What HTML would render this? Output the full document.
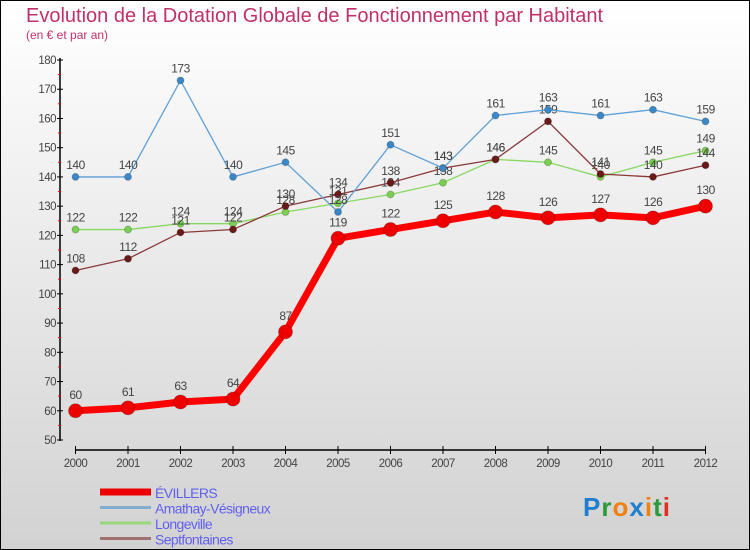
<!DOCTYPE html>
<html><head><meta charset="utf-8"><style>
body{margin:0}
#c{width:750px;height:550px;position:relative;box-sizing:border-box;border:1px solid #000;background:linear-gradient(#ffffff,#d2d2d2);font-family:"Liberation Sans",sans-serif;overflow:hidden}
</style></head><body>
<div id="c">
<svg id="s" width="750" height="550" style="position:absolute;left:-1px;top:-1px">
<text x="26" y="22" font-size="20" fill="#c0306a">Evolution de la Dotation Globale de Fonctionnement par Habitant</text>
<text x="26" y="39" font-size="12" fill="#c0306a">(en € et par an)</text>
</svg>
</div>
<script>
const years=[2000,2001,2002,2003,2004,2005,2006,2007,2008,2009,2010,2011,2012];
const yTicks=[50,60,70,80,90,100,110,120,130,140,150,160,170,180];
const evillers=[60,61,63,64,87,119,122,125,128,126,127,126,130];
const amathay=[140,140,173,140,145,128,151,143,161,163,161,163,159];
const longeville=[122,122,124,124,128,131,134,138,146,145,140,145,149];
const septfontaines=[108,112,121,122,130,134,138,143,146,159,141,140,144];
const NS="http://www.w3.org/2000/svg";
const svg=document.getElementById('s');
const X=i=>75.5+i*52.5;
const Y=v=>440-(v-50)*380/130;
function mk(t,a,p){const e=document.createElementNS(NS,t);for(const k in a)e.setAttribute(k,a[k]);(p||svg).appendChild(e);return e;}
// axes
let ax=mk('line',{x1:60,y1:58,x2:60,y2:441,stroke:'#000','stroke-width':1.5});


yTicks.forEach(v=>{
  mk('line',{x1:57,y1:Y(v),x2:63,y2:Y(v),stroke:'#000'});
  if(v<180)mk('line',{x1:58,y1:Y(v+5),x2:61,y2:Y(v+5),stroke:'#e00'});
  const t=mk('text',{x:56,y:Y(v)+4,'font-size':11.5,fill:'#444','text-anchor':'end','letter-spacing':'-0.5'});
  t.textContent=v;
  
  
});
let xa=mk('line',{x1:75.5,y1:450,x2:705.5,y2:450,stroke:'#000','stroke-width':1.5});


years.forEach((y,i)=>{
  mk('line',{x1:X(i),y1:446,x2:X(i),y2:454,stroke:'#000'});
  const t=mk('text',{x:X(i),y:467,'font-size':11.5,fill:'#444','text-anchor':'middle','letter-spacing':'-0.5'});
  t.textContent=y;
  
  
});
function series(name,data,color,dot,w,r,dy){
  const g=mk('g',{});
  
  
  mk('polyline',{points:data.map((v,i)=>X(i)+','+Y(v)).join(' '),fill:'none',stroke:color,'stroke-width':w},g);
  data.forEach((v,i)=>{
    const c=mk('circle',{cx:X(i),cy:Y(v),r:r,fill:dot,stroke:'rgba(0,0,0,0.2)'},g);
    
    
    const t=mk('text',{x:X(i),y:Y(v)-dy,'font-size':12,fill:'#444','text-anchor':'middle','letter-spacing':'-0.5'},g);
    t.textContent=v;
    
    
  });
}
series('longeville',longeville,'#88d860','#7ad050',1.3,3.5,8);
series('septfontaines',septfontaines,'#8a3a3a','#6a1818',1.3,3.5,8);
series('amathay',amathay,'#5fa0d8','#3a88c8',1.3,3.5,8);
series('evillers',evillers,'#ff0000','#ee0000',7,7,12);
// legend
const leg=[['ÉVILLERS','#ee0000',7],['Amathay-Vésigneux','#80acd0',3],['Longeville','#98d878',3],['Septfontaines','#a07070',3]];
leg.forEach((l,i)=>{
  const y=492+i*15.5;
  const ln=mk('line',{x1:100,y1:y,x2:151,y2:y,stroke:l[1],'stroke-width':l[2]});
  
  
  const t=mk('text',{x:155,y:y+6,'font-size':14,fill:'#6060f0','letter-spacing':'-0.6'});
  t.textContent=l[0];
  
  
});
const logo=mk('text',{x:583,y:516,'font-size':26,'font-weight':'bold','letter-spacing':'1'});


[['P','#1e7ed0'],['r','#2a9a3a'],['o','#f08010'],['x','#1e7ed0'],['i','#f08010'],['t','#2a9a3a'],['i','#e03020']].forEach(p=>{const s=mk('tspan',{fill:p[1]},logo);s.textContent=p[0];});
</script>
</body></html>
